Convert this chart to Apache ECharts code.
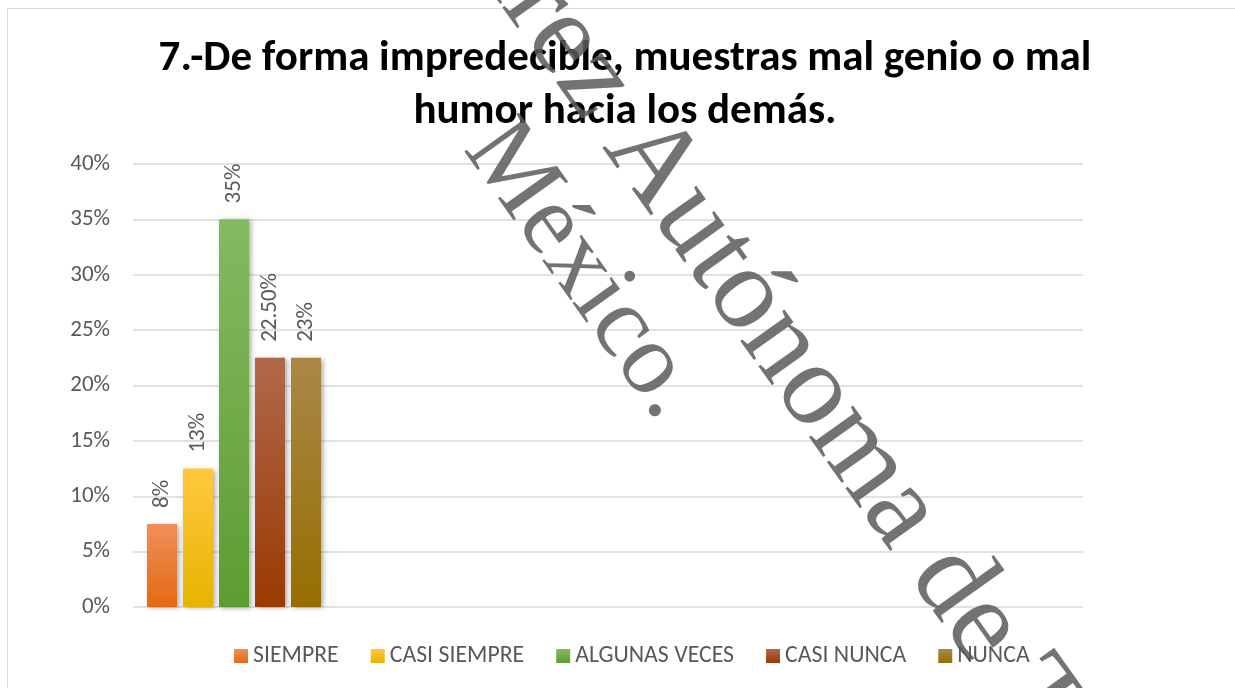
<!DOCTYPE html>
<html>
<head>
<meta charset="utf-8">
<script src="https://cdn.jsdelivr.net/npm/echarts@6/dist/echarts.min.js"></script>
<style>
  html, body { margin: 0; padding: 0; background: #fff; }
  #main { width: 1235px; height: 688px; }
</style>
</head>
<body>
<div id="main"></div>
<script>
// datos
const categories = ['']
const seriesNames = ['SIEMPRE', 'CASI SIEMPRE', 'ALGUNAS VECES', 'CASI NUNCA', 'NUNCA']
const seriesValues = [0.075, 0.125, 0.35, 0.225, 0.225]
const valueLabels = ['8%', '13%', '35%', '22.50%', '23%']

// colores (arriba, abajo) de cada barra
const barColors = [
  ['#F08E5A', '#E46A12'],
  ['#FFC93E', '#E6B400'],
  ['#84BA62', '#5E9C32'],
  ['#B0684C', '#9A3A00'],
  ['#A98848', '#966E00'],
]

const FONT = "Carlito, 'Noto Sans', sans-serif"
const WM_FONT = "'Liberation Serif', serif"
const WM_COLOR = 'rgba(90, 90, 90, 0.85)'
const WM_ROT = -54.5 * Math.PI / 180
const chart = echarts.init(document.getElementById('main'))

const series = seriesNames.map((name, i) => ({
  name: name,
  type: 'bar',
  xAxisIndex: 1,
  yAxisIndex: 1,
  barWidth: 30,
  barGap: '20%',
  itemStyle: {
    color: new echarts.graphic.LinearGradient(0, 0, 0, 1, [
      { offset: 0, color: barColors[i][0] },
      { offset: 1, color: barColors[i][1] },
    ]),
    shadowColor: 'rgba(0, 0, 0, 0.35)',
    shadowBlur: 5,
    shadowOffsetX: 2,
    shadowOffsetY: 1,
  },
  label: {
    show: true,
    position: 'top',
    rotate: 90,
    align: 'left',
    verticalAlign: 'middle',
    distance: 16,
    fontFamily: FONT,
    fontSize: 23,
    color: '#595959',
    formatter: () => valueLabels[i],
  },
  data: [seriesValues[i]],
}))

const option = {
  animation: false,
  backgroundColor: '#fff',
  legend: {
    data: seriesNames,
    top: 639,
    left: 229,
    icon: 'rect',
    itemWidth: 14,
    itemHeight: 14,
    itemGap: 32,
    textStyle: { fontFamily: FONT, fontSize: 23.8, color: '#595959' },
  },
  grid: [
    { left: 133, right: 152, top: 164, bottom: 81 },
    { left: 133, width: 202, top: 164, bottom: 81 },
  ],
  xAxis: [
    {
      gridIndex: 0,
      type: 'category',
      data: categories,
      axisLine: { show: false },
      axisTick: { show: false },
      axisLabel: { show: false },
    },
    {
      gridIndex: 1,
      type: 'category',
      data: categories,
      axisLine: { show: false },
      axisTick: { show: false },
      axisLabel: { show: false },
    },
  ],
  yAxis: [
    {
      gridIndex: 0,
      type: 'value',
      min: 0,
      max: 0.4,
      interval: 0.05,
      axisLine: { show: false },
      axisTick: { show: false },
      splitLine: { lineStyle: { color: '#d9d9d9', width: 1.5 } },
      axisLabel: {
        margin: 23,
        fontFamily: FONT,
        fontSize: 23,
        color: '#595959',
        formatter: (v) => Math.round(v * 100) + '%',
      },
    },
    {
      gridIndex: 1,
      type: 'value',
      min: 0,
      max: 0.4,
      interval: 0.05,
      show: false,
      splitLine: { show: false },
    },
  ],
  graphic: [
    {
      type: 'rect',
      silent: true,
      shape: { x: 7.5, y: 8.5, width: 1400, height: 900 },
      style: { fill: 'none', stroke: '#d9d9d9', lineWidth: 1 },
    },
    {
      type: 'text',
      x: 625,
      y: 86,
      style: {
        text: '7.-De forma impredecible, muestras mal genio o mal\nhumor hacia los demás.',
        align: 'center',
        verticalAlign: 'middle',
        fontFamily: FONT,
        fontWeight: 'bold',
        fontSize: 43,
        lineHeight: 53,
        fill: '#000',
      },
    },
    // marca de agua
    {
      type: 'text',
      x: 579,
      y: 163,
      rotation: WM_ROT,
      z: 100,
      silent: true,
      style: {
        text: 'Universidad Juárez ',
        align: 'right',
        verticalAlign: 'bottom',
        fontFamily: WM_FONT,
        fontSize: 118,
        fill: WM_COLOR,
      },
    },
    {
      type: 'text',
      x: 579,
      y: 163,
      rotation: WM_ROT,
      z: 100,
      silent: true,
      style: {
        text: 'Autónoma de Tabasco',
        align: 'left',
        verticalAlign: 'bottom',
        fontFamily: WM_FONT,
        fontSize: 118,
        fill: WM_COLOR,
      },
    },
    {
      type: 'text',
      x: 443,
      y: 163,
      rotation: WM_ROT,
      z: 100,
      silent: true,
      style: {
        text: 'México.',
        align: 'left',
        verticalAlign: 'bottom',
        fontFamily: WM_FONT,
        fontSize: 102,
        fill: WM_COLOR,
      },
    },
  ],
  series: series,
}

chart.setOption(option)
</script>
</body>
</html>
